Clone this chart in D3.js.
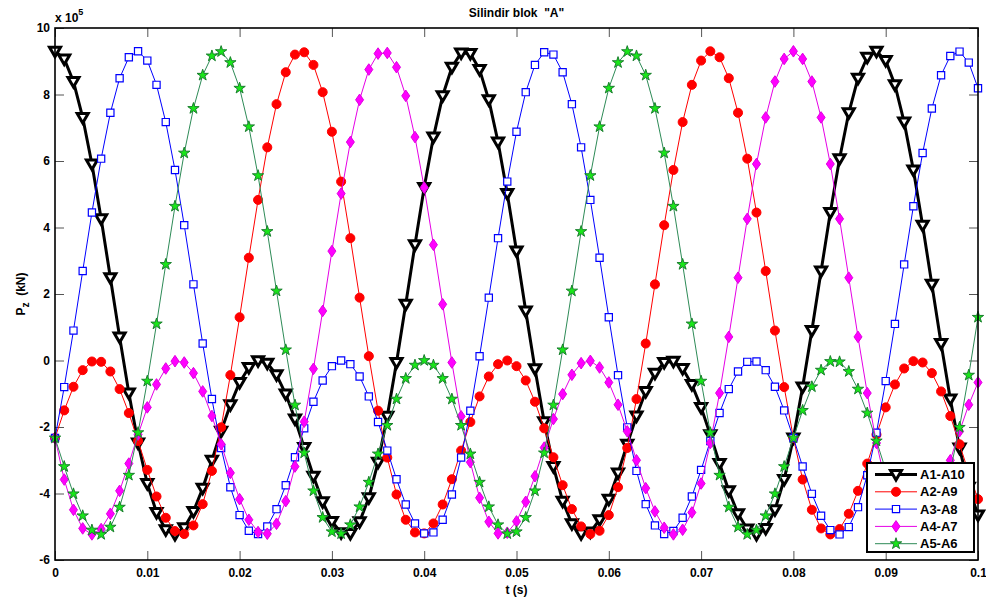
<!DOCTYPE html>
<html>
<head>
<meta charset="utf-8">
<script src="https://cdn.jsdelivr.net/npm/d3@7/dist/d3.min.js"></script>
<style>
body { margin: 0; background: #fff; }
text { font-family: Arial, "Liberation Sans", sans-serif; font-weight: bold; }
</style>
</head>
<body>
<svg width="986" height="600"></svg>
<script>
// values are in units of 1e5 (see "x 10^5" above the y axis), sampled every 1 ms
let seriesNames = ['A1-A10', 'A2-A9', 'A3-A8', 'A4-A7', 'A5-A6'];

let a1a10 = [9.30, 9.07, 8.39, 7.31, 5.91, 4.26, 2.49, 0.71, -0.98, -2.48, -3.70,
    -4.57, -5.09, -5.23, -5.03, -4.54, -3.84, -3.00, -2.13, -1.33, -0.66,
    -0.21, -0.01, -0.08, -0.43, -1.01, -1.76, -2.62, -3.48, -4.25, -4.84,
    -5.18, -5.20, -4.85, -4.13, -3.06, -1.68, -0.06, 1.69, 3.48, 5.20,
    6.72, 7.96, 8.82, 9.25, 9.23, 8.75, 7.84, 6.57, 5.02, 3.29,
    1.49, -0.25, -1.84, -3.19, -4.23, -4.91, -5.21, -5.16, -4.79, -4.17,
    -3.38, -2.52, -1.67, -0.93, -0.38, -0.06, -0.02, -0.24, -0.72, -1.41,
    -2.23, -3.10, -3.92, -4.61, -5.07, -5.23, -5.05, -4.49, -3.58, -2.33,
    -0.80, 0.90, 2.69, 4.45, 6.07, 7.45, 8.49, 9.12, 9.30, 9.02,
    8.29, 7.17, 5.73, 4.07, 2.29, 0.51, -1.16, -2.63, -3.81, -4.65];

let a2a9 = [-2.33, -1.50, -0.79, -0.29, -0.03, -0.04, -0.33, -0.86, -1.58, -2.42, -3.29,
    -4.09, -4.73, -5.13, -5.22, -4.96, -4.32, -3.32, -2.01, -0.44, 1.30,
    3.09, 4.83, 6.41, 7.71, 8.67, 9.20, 9.27, 8.89, 8.07, 6.88,
    5.38, 3.68, 1.89, 0.13, -1.51, -2.92, -4.03, -4.79, -5.17, -5.20,
    -4.90, -4.33, -3.57, -2.71, -1.85, -1.08, -0.48, -0.11, 0.00, -0.17,
    -0.60, -1.24, -2.04, -2.91, -3.75, -4.47, -4.99, -5.22, -5.12, -4.65,
    -3.81, -2.63, -1.16, 0.51, 2.29, 4.07, 5.73, 7.17, 8.29, 9.02,
    9.30, 9.12, 8.49, 7.45, 6.07, 4.45, 2.69, 0.90, -0.80, -2.33,
    -3.58, -4.49, -5.05, -5.23, -5.07, -4.61, -3.92, -3.10, -2.23, -1.41,
    -0.72, -0.24, -0.02, -0.06, -0.38, -0.93, -1.67, -2.52, -3.38, -4.17];

let a3a8 = [-2.33, -0.80, 0.90, 2.69, 4.45, 6.07, 7.45, 8.49, 9.12, 9.30, 9.02,
    8.29, 7.17, 5.73, 4.07, 2.29, 0.51, -1.16, -2.63, -3.81, -4.65,
    -5.12, -5.22, -4.99, -4.47, -3.75, -2.91, -2.04, -1.24, -0.60, -0.17,
    0.00, -0.11, -0.48, -1.08, -1.85, -2.71, -3.57, -4.33, -4.90, -5.20,
    -5.17, -4.79, -4.03, -2.92, -1.51, 0.13, 1.89, 3.68, 5.38, 6.88,
    8.07, 8.89, 9.27, 9.20, 8.67, 7.71, 6.41, 4.83, 3.09, 1.30,
    -0.44, -2.01, -3.32, -4.32, -4.96, -5.22, -5.13, -4.73, -4.09, -3.29,
    -2.42, -1.58, -0.86, -0.33, -0.04, -0.03, -0.29, -0.79, -1.50, -2.33,
    -3.19, -4.01, -4.67, -5.10, -5.23, -5.01, -4.41, -3.45, -2.17, -0.62,
    1.10, 2.89, 4.64, 6.24, 7.58, 8.58, 9.16, 9.29, 8.96, 8.19];

let a4a7 = [-2.33, -3.58, -4.49, -5.05, -5.23, -5.07, -4.61, -3.92, -3.10, -2.23, -1.41,
    -0.72, -0.24, -0.02, -0.06, -0.38, -0.93, -1.67, -2.52, -3.38, -4.17,
    -4.79, -5.16, -5.21, -4.91, -4.23, -3.19, -1.84, -0.25, 1.49, 3.29,
    5.02, 6.57, 7.84, 8.75, 9.23, 9.25, 8.82, 7.96, 6.72, 5.20,
    3.48, 1.69, -0.06, -1.68, -3.06, -4.13, -4.85, -5.20, -5.18, -4.84,
    -4.25, -3.48, -2.62, -1.76, -1.01, -0.43, -0.08, -0.01, -0.21, -0.66,
    -1.33, -2.13, -3.00, -3.84, -4.54, -5.03, -5.23, -5.09, -4.57, -3.70,
    -2.48, -0.98, 0.71, 2.49, 4.26, 5.91, 7.31, 8.39, 9.07, 9.30,
    9.07, 8.39, 7.31, 5.91, 4.26, 2.49, 0.71, -0.98, -2.48, -3.70,
    -4.57, -5.09, -5.23, -5.03, -4.54, -3.84, -3.00, -2.13, -1.33, -0.66];

let a5a6 = [-2.33, -3.19, -4.01, -4.67, -5.10, -5.23, -5.01, -4.41, -3.45, -2.17, -0.62,
    1.10, 2.89, 4.64, 6.24, 7.58, 8.58, 9.16, 9.29, 8.96, 8.19,
    7.03, 5.56, 3.88, 2.09, 0.32, -1.34, -2.78, -3.92, -4.72, -5.15,
    -5.21, -4.94, -4.40, -3.66, -2.81, -1.95, -1.16, -0.54, -0.14, 0.00,
    -0.14, -0.54, -1.16, -1.95, -2.81, -3.66, -4.40, -4.94, -5.21, -5.15,
    -4.72, -3.92, -2.78, -1.34, 0.32, 2.09, 3.88, 5.56, 7.03, 8.19,
    8.96, 9.29, 9.16, 8.58, 7.58, 6.24, 4.64, 2.89, 1.10, -0.62,
    -2.17, -3.45, -4.41, -5.01, -5.23, -5.10, -4.67, -4.01, -3.19, -2.33,
    -1.50, -0.79, -0.29, -0.03, -0.04, -0.33, -0.86, -1.58, -2.42, -3.29,
    -4.09, -4.73, -5.13, -5.22, -4.96, -4.32, -3.32, -2.01, -0.44, 1.30];

let xTicks = [0, 0.01, 0.02, 0.03, 0.04, 0.05, 0.06, 0.07, 0.08, 0.09, 0.1];
let yTicks = [-6, -4, -2, 0, 2, 4, 6, 8, 10];
let timeStep = 0.001; // seconds between samples

let svg = d3.select('svg');
let width = +svg.attr('width');
let height = +svg.attr('height');

let padding = { t: 28, r: 8, b: 40, l: 55 };

let xScale = d3.scaleLinear().domain([0, 0.1]).range([padding.l, width - padding.r]);
let yScale = d3.scaleLinear().domain([-6, 10]).range([height - padding.b, padding.t]);

let seriesValues = [a1a10, a2a9, a3a8, a4a7, a5a6];
let styles = [
    { line: '#000000', lw: 3, marker: 'tri', fill: '#ffffff', stroke: '#000000', sw: 3 },
    { line: '#ff0000', lw: 1, marker: 'circle', fill: '#ff0000', stroke: '#ff0000', sw: 1 },
    { line: '#0000ff', lw: 1, marker: 'square', fill: '#ffffff', stroke: '#0000ff', sw: 1.2 },
    { line: '#e600e6', lw: 1, marker: 'diamond', fill: '#ff00ff', stroke: '#e000e0', sw: 1 },
    { line: '#2e8b57', lw: 1, marker: 'star', fill: '#19e619', stroke: '#1a7f2e', sw: 1 }
];

let tri = 'M-5.5,-4L5.5,-4L0,5.5Z';
let diamond = 'M0,-5.8L4,0L0,5.8L-4,0Z';
let star = d3.symbol().type(d3.symbolStar).size(40)();
let square = 'M-3.6,-3.6H3.6V3.6H-3.6Z';

function markerPath(type) {
    if (type === 'tri') return tri;
    if (type === 'diamond') return diamond;
    if (type === 'star') return star;
    if (type === 'square') return square;
    return d3.symbol().type(d3.symbolCircle).size(64)();
}

// axes (ticks inside, like matlab)
function styleAxis(g) {
    g.select('.domain').remove();
    g.selectAll('line').attr('stroke', '#555').attr('stroke-width', 1);
    g.attr('font-size', 12).attr('font-family', 'Arial, "Liberation Sans", sans-serif')
        .attr('font-weight', 'bold');
    g.selectAll('text').attr('fill', '#000');
}

let fmtX = d => (d === 0 ? '0' : String(+d.toFixed(2)));

svg.append('g')
    .attr('transform', 'translate(0,' + (height - padding.b) + ')')
    .call(d3.axisBottom(xScale).tickValues(xTicks).tickFormat(fmtX)
        .tickSizeInner(-9).tickSizeOuter(0).tickPadding(8))
    .call(styleAxis);

svg.append('g')
    .attr('transform', 'translate(0,' + padding.t + ')')
    .call(d3.axisTop(xScale).tickValues(xTicks).tickFormat('')
        .tickSizeInner(-9).tickSizeOuter(0))
    .call(styleAxis);

svg.append('g')
    .attr('transform', 'translate(' + padding.l + ',0)')
    .call(d3.axisLeft(yScale).tickValues(yTicks).tickFormat(d => String(d))
        .tickSizeInner(-9).tickSizeOuter(0).tickPadding(5))
    .call(styleAxis);

svg.append('g')
    .attr('transform', 'translate(' + (width - padding.r) + ',0)')
    .call(d3.axisRight(yScale).tickValues(yTicks).tickFormat('')
        .tickSizeInner(-9).tickSizeOuter(0))
    .call(styleAxis);

// series
let line = d3.line()
    .x((d, i) => xScale(i * timeStep))
    .y(d => yScale(d));

seriesValues.forEach(function(values, s) {
    let st = styles[s];
    let g = svg.append('g').attr('class', 'series');
    g.append('path')
        .attr('d', line(values))
        .attr('fill', 'none')
        .attr('stroke', st.line)
        .attr('stroke-width', st.lw)
        .attr('stroke-linejoin', 'round');
    g.selectAll('.mk').data(values).enter().append('path')
        .attr('class', 'mk')
        .attr('transform', (d, i) => 'translate(' + xScale(i * timeStep) + ',' + yScale(d) + ')')
        .attr('d', markerPath(st.marker))
        .attr('fill', st.fill)
        .attr('stroke', st.stroke)
        .attr('stroke-width', st.sw)
        .attr('stroke-linejoin', 'miter');
});

// frame
svg.append('rect')
    .attr('x', padding.l)
    .attr('y', padding.t)
    .attr('width', width - padding.l - padding.r)
    .attr('height', height - padding.t - padding.b)
    .attr('fill', 'none')
    .attr('stroke', '#000')
    .attr('stroke-width', 1.6);

// title and labels
svg.append('text')
    .attr('x', (padding.l + width - padding.r) / 2)
    .attr('y', 17)
    .attr('text-anchor', 'middle')
    .attr('font-size', 12)
    .style('white-space', 'pre')
    .text('Silindir blok  "A"');

svg.append('text')
    .attr('x', (padding.l + width - padding.r) / 2)
    .attr('y', 594)
    .attr('text-anchor', 'middle')
    .attr('font-size', 12)
    .text('t (s)');

let yLab = svg.append('text')
    .attr('transform', 'translate(25,294) rotate(-90)')
    .attr('text-anchor', 'middle')
    .attr('font-size', 12)
    .style('white-space', 'pre');
yLab.append('tspan').text('P');
yLab.append('tspan').attr('dy', 4).attr('font-size', 10).text('z');
yLab.append('tspan').attr('dy', -4).text('  (kN)');

let mult = svg.append('text')
    .attr('x', 55)
    .attr('y', 22)
    .attr('font-size', 12);
mult.append('tspan').text('x 10');
mult.append('tspan').attr('dy', -7).attr('font-size', 9).text('5');

// legend
let legendG = svg.append('g').attr('transform', 'translate(867,463)');
legendG.append('rect')
    .attr('width', 107)
    .attr('height', 89)
    .attr('fill', '#fff')
    .attr('stroke', '#000')
    .attr('stroke-width', 2);

seriesNames.forEach(function(name, i) {
    let st = styles[i];
    let y = 11.5 + i * 17.3;
    legendG.append('line')
        .attr('x1', 8).attr('x2', 50)
        .attr('y1', y).attr('y2', y)
        .attr('stroke', st.line)
        .attr('stroke-width', st.lw);
    legendG.append('path')
        .attr('transform', 'translate(29,' + y + ')')
        .attr('d', markerPath(st.marker))
        .attr('fill', st.fill)
        .attr('stroke', st.stroke)
        .attr('stroke-width', st.sw);
    legendG.append('text')
        .attr('x', 53)
        .attr('y', y)
        .attr('dy', '0.35em')
        .attr('font-size', 13)
        .text(name);
});
</script>
</body>
</html>
